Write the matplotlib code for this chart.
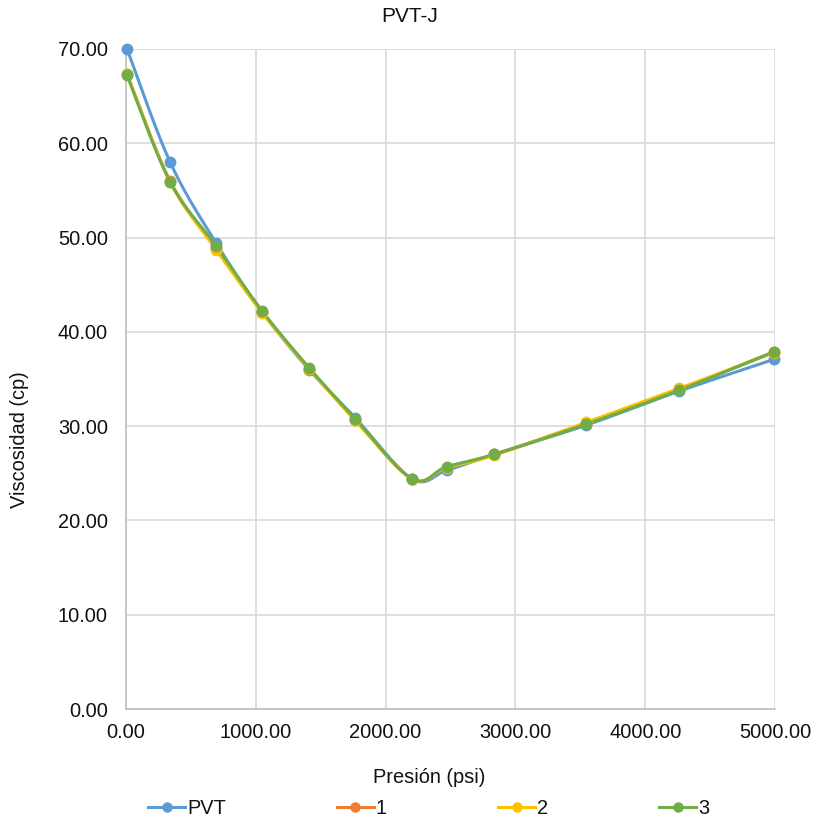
import numpy as np
import matplotlib
matplotlib.use("Agg")
import matplotlib.pyplot as plt
from matplotlib.lines import Line2D

plt.rcParams['font.family'] = ['Liberation Sans', 'DejaVu Sans']

# Pressure (psi) and viscosity (cp) for each case
presion = [8, 340, 695, 1050, 1410, 1765, 2205, 2470, 2835, 3545, 4260, 4995]
visc_pvt = [70.0, 58.0, 49.4, 42.1, 36.0, 30.9, 24.4, 25.3, 27.0, 30.1, 33.7, 37.1]
visc_1 = [67.3, 56.0, 48.9, 42.1, 36.1, 30.7, 24.4, 25.6, 27.0, 30.3, 33.9, 37.9]
visc_2 = [67.4, 55.9, 48.7, 42.0, 36.1, 30.6, 24.4, 25.6, 26.9, 30.4, 34.0, 37.8]
visc_3 = [67.2, 55.9, 49.1, 42.2, 36.2, 30.8, 24.4, 25.7, 27.0, 30.2, 33.8, 37.9]

series = [("PVT", visc_pvt, "#5B9BD5"),
          ("1", visc_1, "#ED7D31"),
          ("2", visc_2, "#FFC000"),
          ("3", visc_3, "#70AD47")]

x_ticks = [0, 1000, 2000, 3000, 4000, 5000]
y_ticks = [0, 10, 20, 30, 40, 50, 60, 70]

TXT = "#111111"
FS = 14.4


def smooth(xs, ys, n=30):
    """Bezier smoothing through the points (Catmull-Rom style control points)."""
    p = np.column_stack([xs, ys]).astype(float)
    # work in screen-like units so the curve shape is not distorted
    sx = 649.0 / 5000.0
    sy = 660.0 / 70.0
    p = p * [sx, sy]
    ext = np.vstack([p[0], p, p[-1]])
    out = []
    t = np.linspace(0, 1, n)[:, None]
    for i in range(len(p) - 1):
        p0, p1, p2, p3 = ext[i], ext[i + 1], ext[i + 2], ext[i + 3]
        c1 = p1 + (p2 - p0) / 6.0
        c2 = p2 - (p3 - p1) / 6.0
        seg = ((1 - t) ** 3) * p1 + 3 * ((1 - t) ** 2) * t * c1 + 3 * (1 - t) * t ** 2 * c2 + t ** 3 * p2
        out.append(seg if i == 0 else seg[1:])
    out = np.vstack(out) / [sx, sy]
    return out[:, 0], out[:, 1]


W, H = 816, 822
fig = plt.figure(figsize=(W / 100, H / 100), dpi=100)
ax = fig.add_axes([126 / W, 113 / H, 649 / W, 660 / H])

for name, vals, col in series:
    sx_, sy_ = smooth(presion, vals)
    ax.plot(sx_, sy_, color=col, lw=2.2, solid_capstyle='round', zorder=3)
    ax.plot(presion, vals, 'o', color=col, ms=7.5, zorder=4, clip_on=False)

ax.set_xlim(0, 5000)
ax.set_ylim(0, 70)
ax.set_xticks(x_ticks)
ax.set_yticks(y_ticks)
ax.set_xticklabels([f"{v:.2f}" for v in x_ticks])
ax.set_yticklabels([f"{v:.2f}" for v in y_ticks])
ax.tick_params(length=0, labelsize=FS, colors=TXT)
ax.tick_params(axis='y', pad=13)
ax.tick_params(axis='x', pad=10)
ax.grid(True, color="#D9D9D9", lw=1.2)
ax.set_axisbelow(True)
for s in ['top', 'right']:
    ax.spines[s].set_visible(False)
for s in ['left', 'bottom']:
    ax.spines[s].set_color("#BFBFBF")
    ax.spines[s].set_linewidth(1.2)

fig.text(429 / W, 1 - 777 / H, "Presión (psi)", ha='center', va='center', fontsize=FS, color=TXT)
fig.text(20 / W, 1 - 440 / H, "Viscosidad (cp)", ha='center', va='center', rotation=90,
         fontsize=FS, color=TXT)
fig.text(410 / W, 1 - 17 / H, "PVT-J", ha='center', va='center', fontsize=15, color=TXT)

handles = [Line2D([], [], color=c, lw=2.2, marker='o', ms=6.5) for _, _, c in series]
leg = fig.legend(handles, [n for n, _, _ in series], loc='center left',
                 bbox_to_anchor=(148 / W, 1 - 808 / H), ncol=4, frameon=False,
                 fontsize=FS, handlelength=1.85, handletextpad=0.1,
                 columnspacing=5.55, borderpad=0, borderaxespad=0)
for t in leg.get_texts():
    t.set_color(TXT)

fig.savefig("out.png", dpi=100)
